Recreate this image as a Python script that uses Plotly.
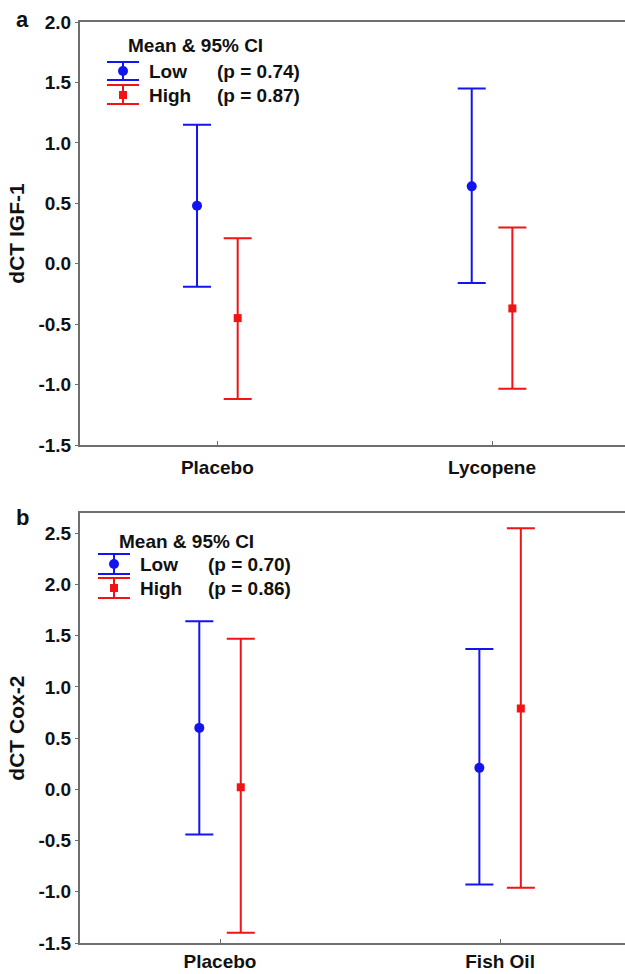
import plotly.graph_objects as go

# ---------------- data ----------------
cats_a = ["Placebo", "Lycopene"]
low_mean_a = [0.48, 0.64]
low_upper_a = [1.15, 1.45]
low_lower_a = [-0.19, -0.16]
high_mean_a = [-0.45, -0.37]
high_upper_a = [0.21, 0.30]
high_lower_a = [-1.12, -1.035]

cats_b = ["Placebo", "Fish Oil"]
low_mean_b = [0.60, 0.21]
low_upper_b = [1.64, 1.37]
low_lower_b = [-0.44, -0.93]
high_mean_b = [0.02, 0.79]
high_upper_b = [1.47, 2.55]
high_lower_b = [-1.40, -0.96]

p_a = ["(p = 0.74)", "(p = 0.87)"]
p_b = ["(p = 0.70)", "(p = 0.86)"]
yticks_a = [-1.5, -1.0, -0.5, 0.0, 0.5, 1.0, 1.5, 2.0]
yticks_b = [-1.5, -1.0, -0.5, 0.0, 0.5, 1.0, 1.5, 2.0, 2.5]

# ---------------- style ----------------
BLUE = "#1414f0"
RED = "#f01414"
AX = "#6e6e6e"
FONT = "Liberation Sans, Arial, sans-serif"
W, H = 625, 974
L = 80
OFF = 0.074

def pp(x, y):
    return (x - L) / (W - L), 1 - y / H

fig = go.Figure()

def add_series(xaxis, yaxis, cats, mean, upper, lower, color, symbol, size, shift):
    xs = [i + shift for i in range(len(cats))]
    fig.add_trace(go.Scatter(
        x=xs, y=mean, mode="markers", xaxis=xaxis, yaxis=yaxis,
        marker=dict(color=color, symbol=symbol, size=size),
        error_y=dict(type="data", symmetric=False,
                     array=[u - m for u, m in zip(upper, mean)],
                     arrayminus=[m - lo for m, lo in zip(mean, lower)],
                     color=color, thickness=2, width=14),
        showlegend=False, hoverinfo="skip"))

add_series("x", "y", cats_a, low_mean_a, low_upper_a, low_lower_a, BLUE, "circle", 10, -OFF)
add_series("x", "y", cats_a, high_mean_a, high_upper_a, high_lower_a, RED, "square", 8, OFF)
add_series("x2", "y2", cats_b, low_mean_b, low_upper_b, low_lower_b, BLUE, "circle", 10, -OFF)
add_series("x2", "y2", cats_b, high_mean_b, high_upper_b, high_lower_b, RED, "square", 8, OFF)

tickfont = dict(family=FONT, size=19, color="#111", weight="bold")

def xax(cats, rng, anchor, standoff):
    return dict(range=rng, domain=[0, 1], anchor=anchor, tickmode="array",
                tickvals=list(range(len(cats))), ticktext=cats,
                showline=True, linecolor=AX, linewidth=2, mirror=True,
                ticks="inside", ticklen=4, tickcolor=AX, tickwidth=1,
                showgrid=False, zeroline=False, tickfont=tickfont,
                ticklabelstandoff=standoff, automargin=False)

def yax(ticks, rng, dom, anchor, title):
    return dict(range=rng, domain=dom, anchor=anchor, tickmode="array",
                tickvals=ticks, ticktext=["%.1f" % t for t in ticks],
                showline=True, linecolor=AX, linewidth=2,
                ticks="outside", ticklen=3, tickcolor=AX, tickwidth=1,
                showgrid=False, zeroline=False, tickfont=tickfont, automargin=False,
                title=dict(text=title, font=dict(family=FONT, size=21, color="#111", weight="bold"),
                           standoff=8))

fig.update_layout(
    template="none",
    width=W, height=H, autosize=False,
    margin=dict(l=L, r=0, t=0, b=0),
    paper_bgcolor="white", plot_bgcolor="white",
    xaxis=xax(cats_a, [-0.5, 1.484], "y", 4),
    yaxis=yax(yticks_a, [-1.5, 2.0], [1 - 445 / H, 1 - 22 / H], "x", "dCT IGF-1"),
    xaxis2=xax(cats_b, [-0.5, 1.446], "y2", 0),
    yaxis2=yax(yticks_b, [-1.5, 2.695], [1 - 943 / H, 1 - 513.3 / H], "x2", "dCT Cox-2"),
)

shapes = []
annots = []

def txt(x, y, s, anchor="left", size=19):
    px, py = pp(x, y)
    annots.append(dict(x=px, y=py, xref="paper", yref="paper", text=s, showarrow=False,
                       xanchor=anchor, yanchor="middle",
                       font=dict(family=FONT, size=size, color="#111", weight="bold")))

def line(x0, y0, x1, y1, color):
    a, b = pp(x0, y0)
    c, d = pp(x1, y1)
    shapes.append(dict(type="line", xref="paper", yref="paper", x0=a, y0=b, x1=c, y1=d,
                       line=dict(color=color, width=2)))

def icon(x, ytop, ybot, ym, color, kind):
    line(x - 16, ytop, x + 16, ytop, color)
    line(x - 16, ybot, x + 16, ybot, color)
    line(x, ytop, x, ybot, color)
    r = 5 if kind == "circle" else 4
    a, b = pp(x - r, ym - r)
    c, d = pp(x + r, ym + r)
    shapes.append(dict(type="circle" if kind == "circle" else "rect", xref="paper", yref="paper",
                       x0=a, y0=b, x1=c, y1=d, fillcolor=color, line=dict(color=color, width=0)))

def legend(x, ytitle, rows, ptexts):
    txt(x + 72, ytitle, "Mean &amp; 95% CI", anchor="center")
    for (ytop, ybot, ym, color, kind, name), ptxt in zip(rows, ptexts):
        icon(x, ytop, ybot, ym, color, kind)
        txt(x + 24, ym, name)
        txt(x + 92, ym, ptxt)

legend(123, 46, [(62, 80, 71, BLUE, "circle", "Low"), (85, 104, 95, RED, "square", "High")], p_a)
legend(114, 541, [(554, 574, 564, BLUE, "circle", "Low"), (578, 598, 588, RED, "square", "High")], p_b)

txt(22, 20, "a", anchor="center", size=22)
txt(22, 517, "b", anchor="center", size=22)

fig.update_layout(shapes=shapes, annotations=annots)

post = (
    "var gd=document.getElementById('{plot_id}');"
    "gd.style.position='fixed';gd.style.left='0px';gd.style.top='0px';"
    "var de=document.documentElement,bd=document.body;"
    "de.style.margin='0';bd.style.margin='0';de.style.padding='0';bd.style.padding='0';"
    "de.style.overflow='hidden';bd.style.overflow='hidden';"
    "de.style.height='974px';bd.style.height='974px';"
    "de.style.width='625px';bd.style.width='625px';"
)
fig.write_html("out.html", config={"displayModeBar": False}, post_script=post)
